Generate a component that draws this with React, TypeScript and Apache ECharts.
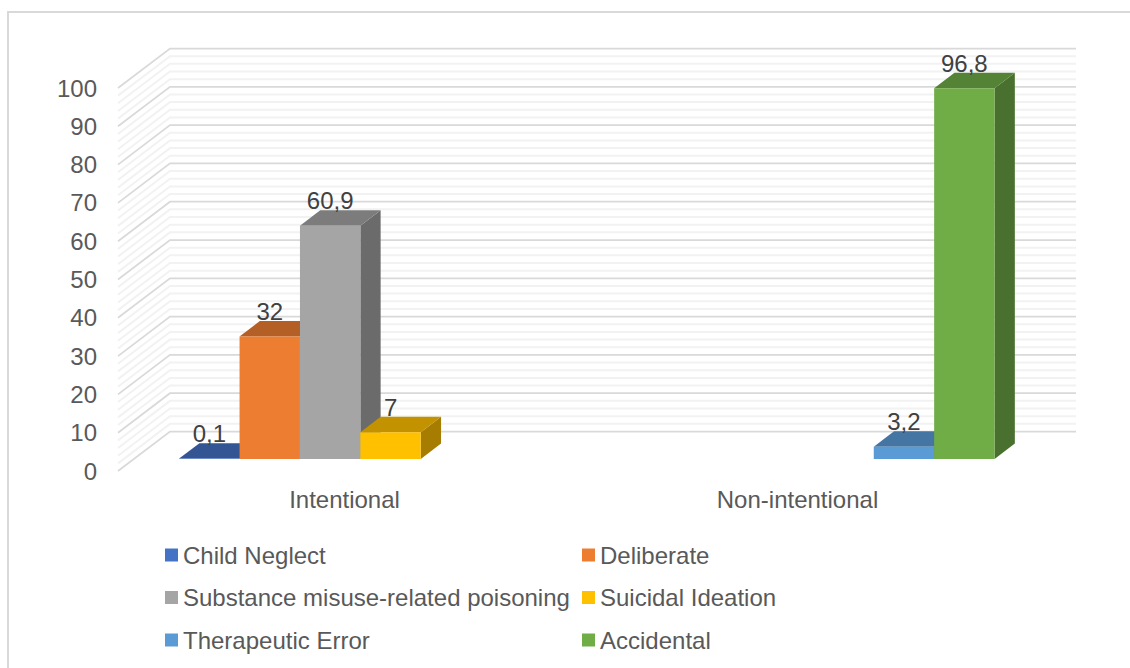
import React, { useEffect, useRef } from "react";
import * as echarts from "echarts";

const categories = ["Intentional", "Non-intentional"];

const childNeglect = [0.1, null];
const deliberate = [32, null];
const substanceMisuse = [60.9, null];
const suicidalIdeation = [7, null];
const therapeuticError = [null, 3.2];
const accidental = [null, 96.8];

const majorGridValues = [0, 10, 20, 30, 40, 50, 60, 70, 80, 90, 100];
const minorGridValues = [
  2, 4, 6, 8, 12, 14, 16, 18, 22, 24, 26, 28, 32, 34, 36, 38, 42, 44, 46, 48,
  52, 54, 56, 58, 62, 64, 66, 68, 72, 74, 76, 78, 82, 84, 86, 88, 92, 94, 96, 98,
];

// Colours per series: front face, top face, side face.
const palette = [
  { name: "Child Neglect", values: childNeglect, front: "#4472C4", top: "#335593", side: "#2A4679" },
  { name: "Deliberate", values: deliberate, front: "#ED7D31", top: "#B45F25", side: "#9C5220" },
  { name: "Substance misuse-related poisoning", values: substanceMisuse, front: "#A5A5A5", top: "#7C7C7C", side: "#6B6B6B" },
  { name: "Suicidal Ideation", values: suicidalIdeation, front: "#FFC000", top: "#C29200", side: "#A67D00" },
  { name: "Therapeutic Error", values: therapeuticError, front: "#5B9BD5", top: "#4575A2", side: "#3B658A" },
  { name: "Accidental", values: accidental, front: "#70AD47", top: "#558336", side: "#49702E" },
];

const FONT = "Liberation Sans, Arial, sans-serif";
const DEPTH_X = 52;
const DEPTH_Y = 39.5;
const BAR_NEAR = 0.305; // depth fraction where the bars' front faces sit
const BAR_DEEP = 0.39; // depth fraction taken up by each bar
const SLOTS = 6;
const GAP_SLOTS = 1.5;

function wallLines(major: boolean) {
  return (params: any, api: any) => {
    const sys = params.coordSys;
    const y = api.coord([0, api.value(0)])[1];
    return {
      type: "polyline",
      silent: true,
      shape: {
        points: [
          [sys.x, y],
          [sys.x + DEPTH_X, y - DEPTH_Y],
          [sys.x + sys.width + DEPTH_X, y - DEPTH_Y],
        ],
      },
      style: {
        fill: "none",
        stroke: major ? "#D9D9D9" : "#F2F2F2",
        lineWidth: major ? 1.75 : 2,
      },
    };
  };
}

function box3d(slot: number, colors: (typeof palette)[number]) {
  return (params: any, api: any) => {
    const band = api.size([1, 0])[0];
    const barW = band / (SLOTS + GAP_SLOTS);
    const center = api.coord([api.value(0), 0]);
    const value = api.value(1);
    const topY = api.coord([api.value(0), value])[1];
    const shiftX = DEPTH_X * BAR_NEAR;
    const shiftY = DEPTH_Y * BAR_NEAR;
    const deepX = DEPTH_X * BAR_DEEP;
    const deepY = DEPTH_Y * BAR_DEEP;
    const x0 = center[0] + shiftX + (slot - SLOTS / 2) * barW;
    const x1 = x0 + barW;
    const yBase = center[1] - shiftY;
    const yTop = topY - shiftY;
    return {
      type: "group",
      silent: true,
      children: [
        {
          type: "polygon",
          shape: { points: [[x1, yBase], [x1 + deepX, yBase - deepY], [x1 + deepX, yTop - deepY], [x1, yTop]] },
          style: { fill: colors.side },
        },
        {
          type: "polygon",
          shape: { points: [[x0, yTop], [x1, yTop], [x1 + deepX, yTop - deepY], [x0 + deepX, yTop - deepY]] },
          style: { fill: colors.top },
        },
        {
          type: "rect",
          shape: { x: x0, y: yTop, width: barW, height: yBase - yTop },
          style: { fill: colors.front },
        },
        {
          type: "text",
          style: {
            text: String(value).replace(".", ","),
            x: (x0 + x1) / 2,
            y: yTop - 25,
            align: "center",
            verticalAlign: "middle",
            fontFamily: FONT,
            fontSize: 24,
            fill: "#404040",
          },
        },
      ],
    };
  };
}

export default function App() {
  const ref = useRef<HTMLDivElement>(null);

  useEffect(() => {
    const chart = echarts.init(ref.current!, undefined, { renderer: "svg" });

    const gridSeries = [
      { values: minorGridValues, major: false },
      { values: majorGridValues, major: true },
    ].map(({ values, major }) => ({
      type: "custom",
      silent: true,
      coordinateSystem: "cartesian2d",
      encode: { y: 0 },
      data: values.map((v) => [v]),
      renderItem: wallLines(major),
      z: 1,
    }));

    const barSeries = palette.map((entry, slot) => ({
      type: "custom",
      name: entry.name,
      silent: true,
      coordinateSystem: "cartesian2d",
      encode: { x: 0, y: 1 },
      itemStyle: { color: entry.front },
      data: entry.values
        .map((v, i) => (v === null ? null : [i, v]))
        .filter((d) => d !== null),
      renderItem: box3d(slot, entry),
      z: 2 + slot,
    }));

    const legendCommon = {
      orient: "vertical",
      top: 543,
      itemWidth: 13,
      itemHeight: 13,
      itemGap: 18.5,
      icon: "rect",
      selectedMode: false,
      padding: 0,
      textStyle: {
        fontFamily: FONT,
        fontSize: 24,
        color: "#595959",
        padding: [0, 0, 0, 0],
      },
    };

    chart.setOption({
      animation: false,
      backgroundColor: "#FFFFFF",
      grid: { left: 118, top: 88, width: 906, height: 383, containLabel: false },
      xAxis: {
        type: "category",
        data: categories,
        axisLine: { show: false },
        axisTick: { show: false },
        splitLine: { show: false },
        axisLabel: { fontFamily: FONT, fontSize: 24, color: "#595959", margin: 16 },
      },
      yAxis: {
        type: "value",
        min: 0,
        max: 100,
        interval: 10,
        axisLine: { show: false },
        axisTick: { show: false },
        splitLine: { show: false },
        axisLabel: { fontFamily: FONT, fontSize: 24, color: "#595959", margin: 21 },
      },
      legend: [
        { ...legendCommon, left: 165, data: [palette[0].name, palette[2].name, palette[4].name] },
        { ...legendCommon, left: 582, data: [palette[1].name, palette[3].name, palette[5].name] },
      ],
      graphic: [
        {
          type: "polyline",
          silent: true,
          shape: { points: [[8, 668], [8, 12], [1130, 12]] },
          style: { fill: "none", stroke: "#D9D9D9", lineWidth: 2 },
        },
      ],
      series: [...gridSeries, ...barSeries],
    });

    return () => chart.dispose();
  }, []);

  return (
    <div
      ref={ref}
      style={{ position: "fixed", left: 0, top: 0, width: 1130, height: 668 }}
    />
  );
}
